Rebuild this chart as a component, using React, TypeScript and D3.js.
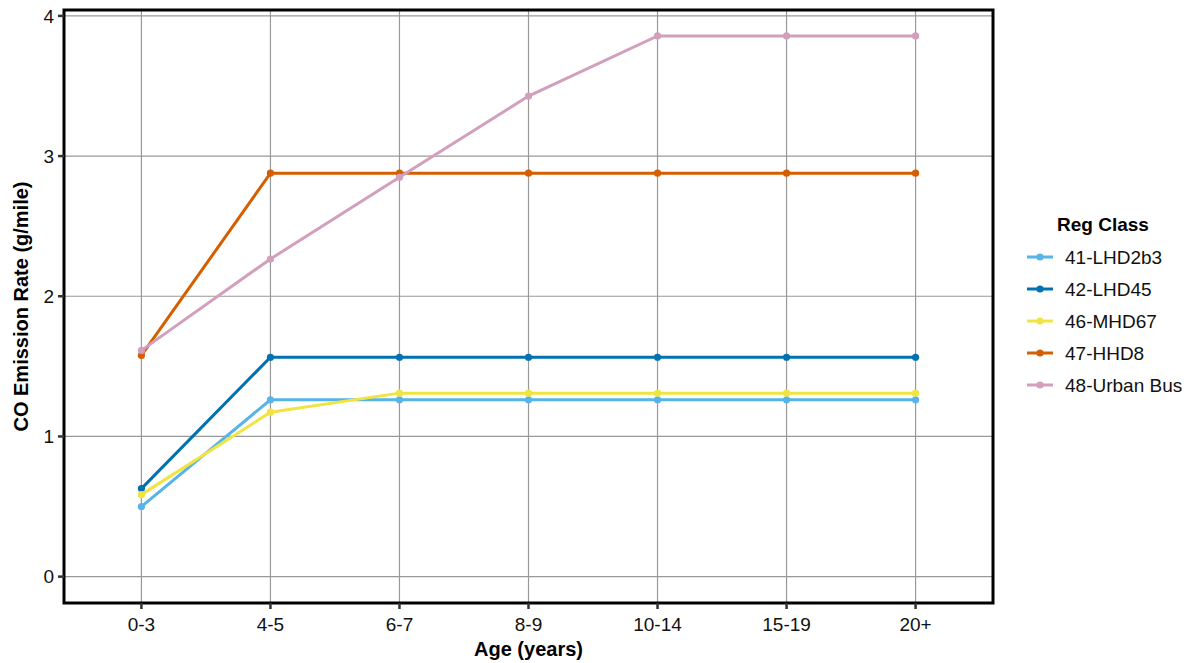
import React from "react";
import * as d3 from "d3";

const ages = ["0-3", "4-5", "6-7", "8-9", "10-14", "15-19", "20+"];
const seriesNames = ["41-LHD2b3", "42-LHD45", "46-MHD67", "47-HHD8", "48-Urban Bus"];
const lhd2b3 = [0.499, 1.262, 1.262, 1.262, 1.262, 1.262, 1.262];
const lhd45 = [0.628, 1.565, 1.565, 1.565, 1.565, 1.565, 1.565];
const mhd67 = [0.585, 1.173, 1.309, 1.309, 1.309, 1.309, 1.309];
const hhd8 = [1.578, 2.878, 2.878, 2.878, 2.878, 2.878, 2.878];
const urbanBus = [1.614, 2.266, 2.849, 3.428, 3.857, 3.857, 3.857];
const colors = ["#56B4E9", "#0072B2", "#F0E442", "#D55E00", "#D29FBC"];
const yTicks = [0, 1, 2, 3, 4];

const seriesValues = [lhd2b3, lhd45, mhd67, hhd8, urbanBus];

export default function App() {
  const W = 1188, H = 663;
  const L = 64, R = 993, T = 10, B = 603;
  const step = (R - L) / (ages.length - 1 + 1.2);
  const x = d3.scalePoint<string>().domain(ages).range([L + 0.6 * step, R - 0.6 * step]);
  const y = d3.scaleLinear().domain([-0.188, 4.042]).range([B, T]);
  const line = d3.line<number>().x((_, i) => x(ages[i])!).y((d) => y(d));
  const font = "'Liberation Sans', Arial, sans-serif";
  const legY0 = 257, legStep = 32;
  return (
    <svg width={W} height={H} style={{ position: "absolute", left: 0, top: 0, fontFamily: font }}>
      <rect x={0} y={0} width={W} height={H} fill="#fff" />
      {yTicks.map((t) => (
        <line key={"gy" + t} x1={L} x2={R} y1={y(t)} y2={y(t)} stroke="#999" strokeWidth={1.2} />
      ))}
      {ages.map((a) => (
        <line key={"gx" + a} x1={x(a)} x2={x(a)} y1={T} y2={B} stroke="#999" strokeWidth={1.2} />
      ))}
      {seriesValues.map((vals, si) => (
        <g key={seriesNames[si]}>
          <path d={line(vals)!} fill="none" stroke={colors[si]} strokeWidth={3} />
          {vals.map((v, i) => (
            <circle key={i} cx={x(ages[i])} cy={y(v)} r={3.6} fill={colors[si]} />
          ))}
        </g>
      ))}
      <rect x={L} y={T} width={R - L} height={B - T} fill="none" stroke="#000" strokeWidth={3} />
      {yTicks.map((t) => (
        <g key={"yt" + t}>
          <line x1={L - 6} x2={L} y1={y(t)} y2={y(t)} stroke="#333" strokeWidth={2.5} />
          <text x={L - 10} y={y(t)} dy="0.35em" textAnchor="end" fontSize={19} fill="#111">{t}</text>
        </g>
      ))}
      {ages.map((a) => (
        <g key={"xt" + a}>
          <line x1={x(a)} x2={x(a)} y1={B} y2={B + 6} stroke="#333" strokeWidth={2.5} />
          <text x={x(a)} y={631} textAnchor="middle" fontSize={19} fill="#111">{a}</text>
        </g>
      ))}
      <text x={(L + R) / 2} y={656} textAnchor="middle" fontSize={20} fontWeight="bold" fill="#000">Age (years)</text>
      <text transform={`translate(28,${(T + B) / 2}) rotate(-90)`} textAnchor="middle" fontSize={20} fontWeight="bold" fill="#000">CO Emission Rate (g/mile)</text>
      <text x={1057} y={231} fontSize={19} fontWeight="bold" fill="#000">Reg Class</text>
      {seriesNames.map((n, i) => (
        <g key={"lg" + n}>
          <line x1={1027} x2={1053} y1={legY0 + i * legStep} y2={legY0 + i * legStep} stroke={colors[i]} strokeWidth={3} />
          <circle cx={1040} cy={legY0 + i * legStep} r={3.6} fill={colors[i]} />
          <text x={1065} y={legY0 + i * legStep} dy="0.35em" fontSize={19} fill="#111">{n}</text>
        </g>
      ))}
    </svg>
  );
}
